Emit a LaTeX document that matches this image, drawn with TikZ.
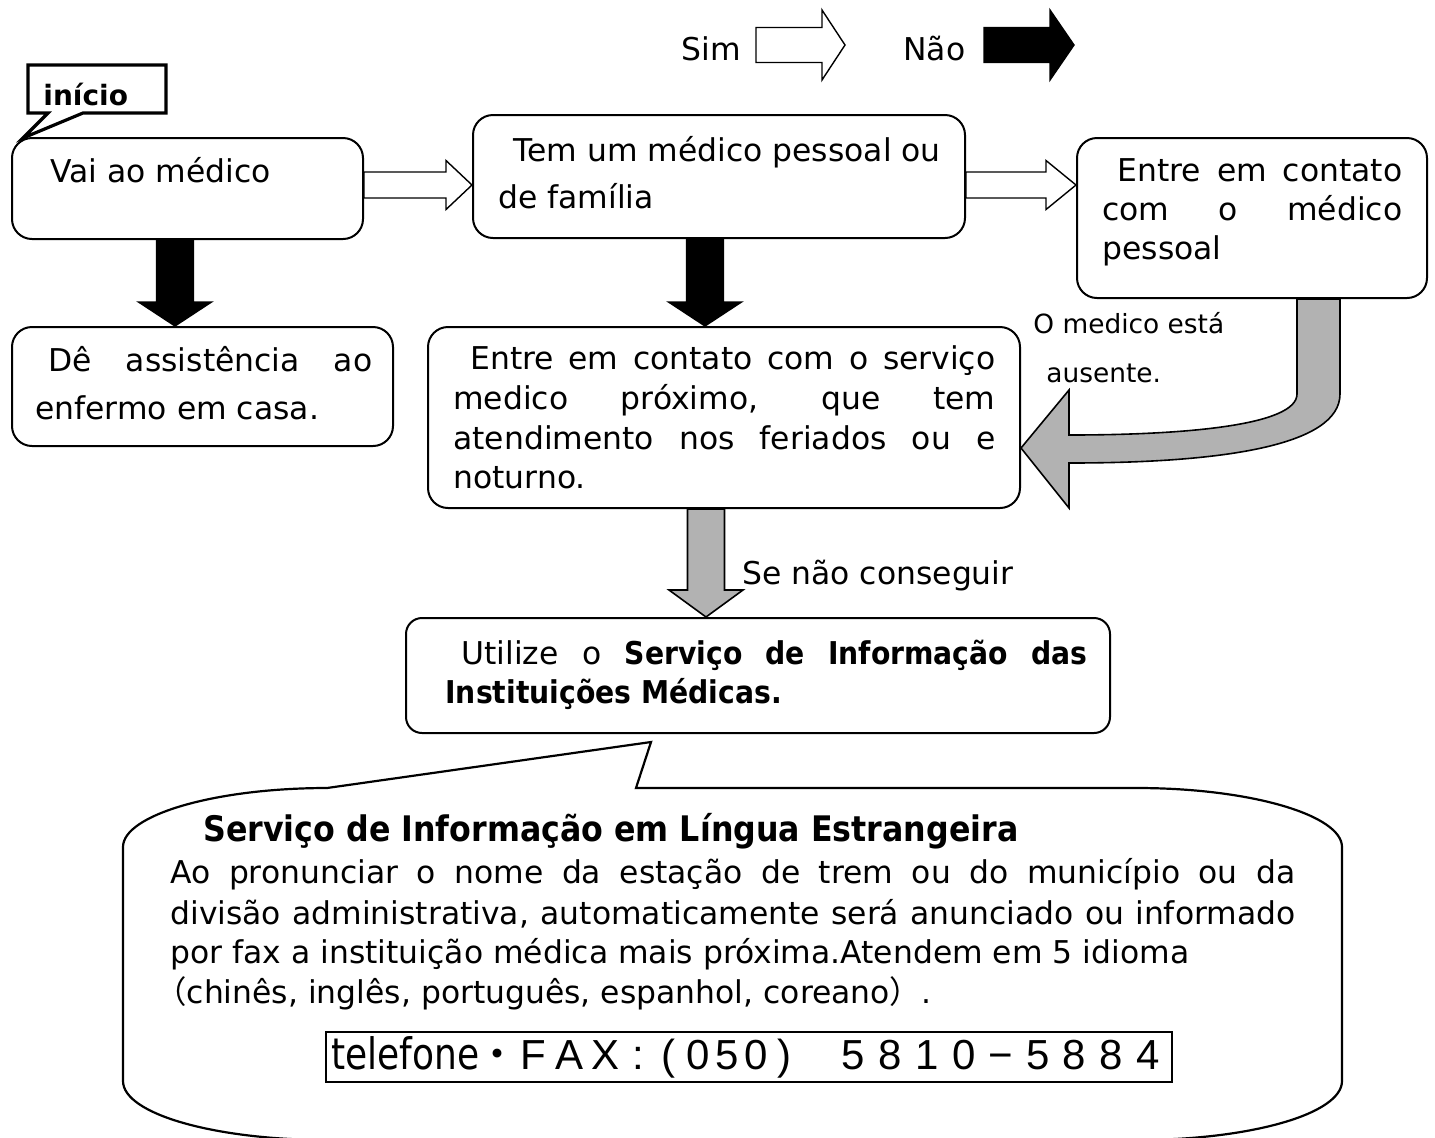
\documentclass[tikz,border=0pt]{standalone}
\usepackage{fontspec}
\usepackage{graphicx}
\setmainfont{DejaVu Sans}
\newfontfamily\cjkfont{Noto Sans CJK JP}
\newfontfamily\phonefont{Liberation Sans}
\newfontfamily\boldnarrow[FakeStretch=0.9]{DejaVu Sans Bold}
\usetikzlibrary{calc}
\definecolor{arrowgray}{RGB}{178,178,178}
\newcommand\mfs{\fontsize{15.7pt}{19pt}\selectfont}
\newcommand\sfs{\fontsize{13.2pt}{16pt}\selectfont}
\newcommand\jline[2]{\makebox[#1][s]{#2}}
\newcommand\pc[2]{\makebox[#1][c]{#2}}
% rightward block arrow: style, from, to, body half, head half, head length
\newcommand\harrow[6]{%
  \path[#1] let \p1=(#2), \p2=(#3) in
    (\x1,\y1+#4) -- (\x2-#6,\y1+#4) -- (\x2-#6,\y1+#5) -- (\x2,\y1)
    -- (\x2-#6,\y1-#5) -- (\x2-#6,\y1-#4) -- (\x1,\y1-#4) -- cycle;}
% downward block arrow
\newcommand\varrow[6]{%
  \path[#1] let \p1=(#2), \p2=(#3) in
    (\x1-#4,\y1) -- (\x1-#4,\y2+#6) -- (\x1-#5,\y2+#6) -- (\x1,\y2)
    -- (\x1+#5,\y2+#6) -- (\x1+#4,\y2+#6) -- (\x1+#4,\y1) -- cycle;}
\begin{document}
\begin{tikzpicture}[x=0.5pt, y=-0.5pt,
  box/.style={draw, rounded corners=10pt, line width=1pt, inner sep=0pt},
  ln/.style={anchor=base west, inner sep=0pt, font=\mfs},
  whitearrow/.style={draw, fill=white, line width=0.7pt, line join=miter},
  blackarrow/.style={draw, fill=black, line width=0.7pt, line join=miter},
  grayarrow/.style={draw, fill=arrowgray, line width=0.8pt, line join=miter}]
\useasboundingbox (0,0) rectangle (1435,1137);

% legend
\node[ln] (sim) at (681,60) {Sim};
\node[ln] (nao) at (903,60) {Não};
\coordinate (lw1) at (756,45);
\coordinate (lw2) at (845,45);
\coordinate (lb1) at (984,45);
\coordinate (lb2) at (1074,45);
\harrow{whitearrow}{lw1}{lw2}{8.75pt}{17.5pt}{11.5pt}
\harrow{blackarrow}{lb1}{lb2}{8.75pt}{17.5pt}{12pt}

% boxes
\node[box, minimum width=175.5pt, minimum height=50.5pt] (b1) at (187.5,188.5) {};
\node[box, minimum width=246pt, minimum height=61.5pt] (b2) at (719,176.5) {};
\node[box, minimum width=175pt, minimum height=80pt] (b3) at (1252,218) {};
\node[box, minimum width=190.5pt, minimum height=59.5pt] (b4) at (202.5,386.5) {};
\node[box, minimum width=296pt, minimum height=90.5pt] (b5) at (724,417.5) {};
\node[box, rounded corners=8pt, minimum width=352pt, minimum height=57.5pt] (b6) at (758,675.5) {};

% inicio callout
\node[ln, font=\fontsize{14pt}{16pt}\selectfont\bfseries] (ini) at (43,105) {início};
\draw[line width=1.6pt, line join=miter] (28,65) -- (166,65) -- (166,113) -- (83,113)
  -- (23,138) -- (48,113) -- (28,113) -- cycle;

% texts in boxes
\node[ln] (t1) at (50,182) {Vai ao médico};
\node[ln] (t2a) at (513,161) {Tem um médico pessoal ou};
\node[ln] (t2b) at (498,208) {de família};
\node[ln] (t3a) at (1117,181) {\jline{142.5pt}{Entre em contato}};
\node[ln] (t3b) at (1102,220) {\jline{150pt}{com o médico}};
\node[ln] (t3c) at (1102,259) {pessoal};
\node[ln] (t4a) at (48,371) {\jline{162pt}{Dê assistência ao}};
\node[ln] (t4b) at (35,419) {enfermo em casa.};
\node[ln] (t5a) at (470,369) {\jline{262.5pt}{Entre em contato com o serviço}};
\node[ln] (t5b) at (453,409) {\jline{271pt}{medico próximo, que tem}};
\node[ln] (t5c) at (453,449) {\jline{271pt}{atendimento nos feriados ou e}};
\node[ln] (t5d) at (453,488) {noturno.};
\node[ln] (t6a) at (461,664) {\jline{313pt}{Utilize o {\boldnarrow Serviço de Informação das}}};
\node[ln] (t6b) at (445,703) {{\boldnarrow Instituições Médicas.}};

% connectors
\harrow{whitearrow}{[yshift=1.75pt]b1.east}{b2.west}{6.5pt}{12.25pt}{13pt}
\harrow{whitearrow}{[yshift=-4.25pt]b2.east}{b3.west}{6.5pt}{12.25pt}{15pt}
\varrow{blackarrow}{[xshift=-6.25pt]b1.south}{b4.north}{9.25pt}{18.25pt}{12pt}
\varrow{blackarrow}{[xshift=-7pt]b2.south}{b5.north}{9.25pt}{18.25pt}{12pt}
\varrow{grayarrow}{[xshift=-9pt]b5.south}{b6.north}{9.25pt}{18.5pt}{13.5pt}

\coordinate (gA) at ([xshift=33.25pt]b3.south);
\coordinate (gB) at ([yshift=-15.25pt]b5.east);
\path[grayarrow] let \p1=(gA), \p2=(gB) in
  (\x1-10.75pt,\y1) -- (\x1-10.75pt,\y1-47.5pt)
  .. controls (\x1-10.75pt,\y1-63.5pt) and (\x2+80pt,\y2+6.5pt) .. (\x2+24pt,\y2+6.5pt)
  -- (\x2+24pt,\y2+29pt) -- (\x2,\y2) -- (\x2+24pt,\y2-30pt) -- (\x2+24pt,\y2-7.5pt)
  .. controls (\x2+100pt,\y2-7.5pt) and (\x1+10.75pt,\y1-73.5pt) .. (\x1+10.75pt,\y1-47.5pt)
  -- (\x1+10.75pt,\y1) -- cycle;

\node[ln, font=\sfs] (aus1) at (1033,333) {O medico está};
\node[ln, font=\sfs] (aus2) at (1046,382) {ausente.};
\node[ln] (senao) at (742,584) {Se não conseguir};

% big callout
\draw[line width=1.1pt, line join=miter] (327,788) -- (651,742) -- (636,788) -- (1137,788)
  .. controls (1250,788) and (1342,815) .. (1342,847) -- (1342,1081)
  .. controls (1342,1114) and (1250,1140) .. (1137,1140) -- (328,1140)
  .. controls (215,1140) and (123,1114) .. (123,1081) -- (123,847)
  .. controls (123,815) and (215,788) .. (327,788) -- cycle;

\node[ln, font=\fontsize{17.6pt}{21pt}\selectfont] (ct) at (203,841) {{\boldnarrow Serviço de Informação em Língua Estrangeira}};
\node[ln] (c1) at (170,883) {\jline{562.5pt}{Ao pronunciar o nome da estação de trem ou do município ou da}};
\node[ln] (c2) at (170,924) {\jline{562.5pt}{divisão administrativa, automaticamente será anunciado ou informado}};
\node[ln] (c3) at (170,963) {por fax a instituição médica mais próxima.Atendem em 5 idioma};
\node[ln] (c4) at (155,1003) {{\cjkfont （}chinês, inglês, português, espanhol, coreano{\cjkfont ）}.};

\node[draw, line width=1pt, minimum width=423pt, minimum height=25pt, inner sep=0pt] (phone) at (749,1057)
  {\scalebox{0.83}[1]{\fontsize{21.7pt}{24pt}\selectfont telefone}%
   {\phonefont\fontsize{21pt}{24pt}\selectfont
    \pc{18pt}{\cjkfont ・}\pc{18pt}{F}\pc{18pt}{A}\pc{18pt}{X}\pc{15.5pt}{:}%
    \pc{14.5pt}{(}\pc{14.5pt}{0}\pc{14.5pt}{5}\pc{14.5pt}{0}\pc{14.5pt}{)}\hspace{17.75pt}%
    \pc{18.45pt}{5}\pc{18.45pt}{8}\pc{18.45pt}{1}\pc{18.45pt}{0}\pc{18.45pt}{−}%
    \pc{18.45pt}{5}\pc{18.45pt}{8}\pc{18.45pt}{8}\pc{18.45pt}{4}}};
\end{tikzpicture}
\end{document}
